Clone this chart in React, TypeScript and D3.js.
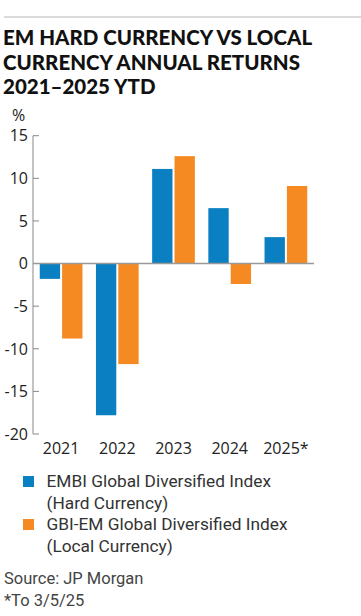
import React from "react";
import * as d3 from "d3";

const years = ["2021", "2022", "2023", "2024", "2025*"];
const hardCurrency = [-1.8, -17.8, 11.1, 6.5, 3.1];
const localCurrency = [-8.8, -11.8, 12.6, -2.4, 9.1];
const seriesNames = ["hard", "local"];
const seriesColors = ["#0a7fc1", "#f48a21"];
const legendLines = [
  ["EMBI Global Diversified Index", "(Hard Currency)"],
  ["GBI-EM Global Diversified Index", "(Local Currency)"],
];
const yTicks = [15, 10, 5, 0, -5, -10, -15, -20];
const titleLines = ["EM HARD CURRENCY VS LOCAL", "CURRENCY ANNUAL RETURNS", "2021\u20132025 YTD"];
const sourceLines = ["Source: JP Morgan", "*To 3/5/25"];

export default function App() {
  const W = 361;
  const H = 616;
  const axisX = 33;
  const plotRight = 314;
  const y = d3.scaleLinear().domain([-20, 15]).range([434, 135.7]);
  const x0 = d3.scaleBand<string>().domain(years).range([axisX, plotRight]).paddingInner(0.24).paddingOuter(0.12);
  const x1 = d3.scaleBand<string>().domain(seriesNames).range([0, x0.bandwidth()]).paddingInner(0.09);
  const values = [hardCurrency, localCurrency];
  const font = "'Open Sans', sans-serif";
  const titleFont = "Lato, sans-serif";
  const legendFont = "Roboto, 'Open Sans', sans-serif";

  return (
    <svg width={W} height={H} style={{ position: "absolute", left: 0, top: 0, background: "#fff" }}>
      <line x1={4} x2={361} y1={17} y2={17} stroke="#cfcfcf" strokeWidth={1.5} />
      {titleLines.map((t, i) => (
        <text key={t} x={3} y={45 + i * 24.5} fontFamily={titleFont} fontWeight={900} fontSize={20.5} fill="#111">
          {t}
        </text>
      ))}
      <text x={12} y={121} fontFamily={font} fontSize={16} fill="#222">%</text>
      {/* y axis */}
      <line x1={axisX} x2={axisX} y1={y(15)} y2={y(-20)} stroke="#888" strokeWidth={1} />
      {yTicks.map((t) => (
        <g key={t}>
          <line x1={axisX} x2={axisX + 6} y1={y(t)} y2={y(t)} stroke="#888" strokeWidth={1} />
          <text x={28} y={y(t)} dy="0.36em" textAnchor="end" fontFamily={font} fontSize={16} fill="#222">
            {t}
          </text>
        </g>
      ))}
      {/* bars */}
      {years.map((yr, i) => (
        <g key={yr} transform={`translate(${x0(yr)},0)`}>
          {seriesNames.map((s, j) => {
            const v = values[j][i];
            return (
              <rect
                key={s}
                x={x1(s)}
                y={y(Math.max(0, v))}
                width={x1.bandwidth()}
                height={Math.abs(y(v) - y(0))}
                fill={seriesColors[j]}
              />
            );
          })}
          <text
            x={x0.bandwidth() / 2}
            y={454}
            textAnchor="middle"
            fontFamily={font}
            fontSize={16}
            fill="#222"
          >
            {yr}
          </text>
        </g>
      ))}
      <line x1={axisX} x2={plotRight} y1={y(0)} y2={y(0)} stroke="#999" strokeWidth={1.5} />
      {/* legend */}
      {legendLines.map((lines, i) => {
        const top = 476 + i * 43;
        return (
          <g key={i}>
            <rect x={23} y={top} width={11} height={11} fill={seriesColors[i]} />
            {lines.map((l, k) => (
              <text key={k} x={46.5} y={top + 11 + k * 21.5} fontFamily={legendFont} fontSize={17.3} fill="#333">
                {l}
              </text>
            ))}
          </g>
        );
      })}
      {sourceLines.map((s, i) => (
        <text key={s} x={4} y={584 + i * 21.5} fontFamily={legendFont} fontSize={16.5} fill="#444">
          {s}
        </text>
      ))}
    </svg>
  );
}
